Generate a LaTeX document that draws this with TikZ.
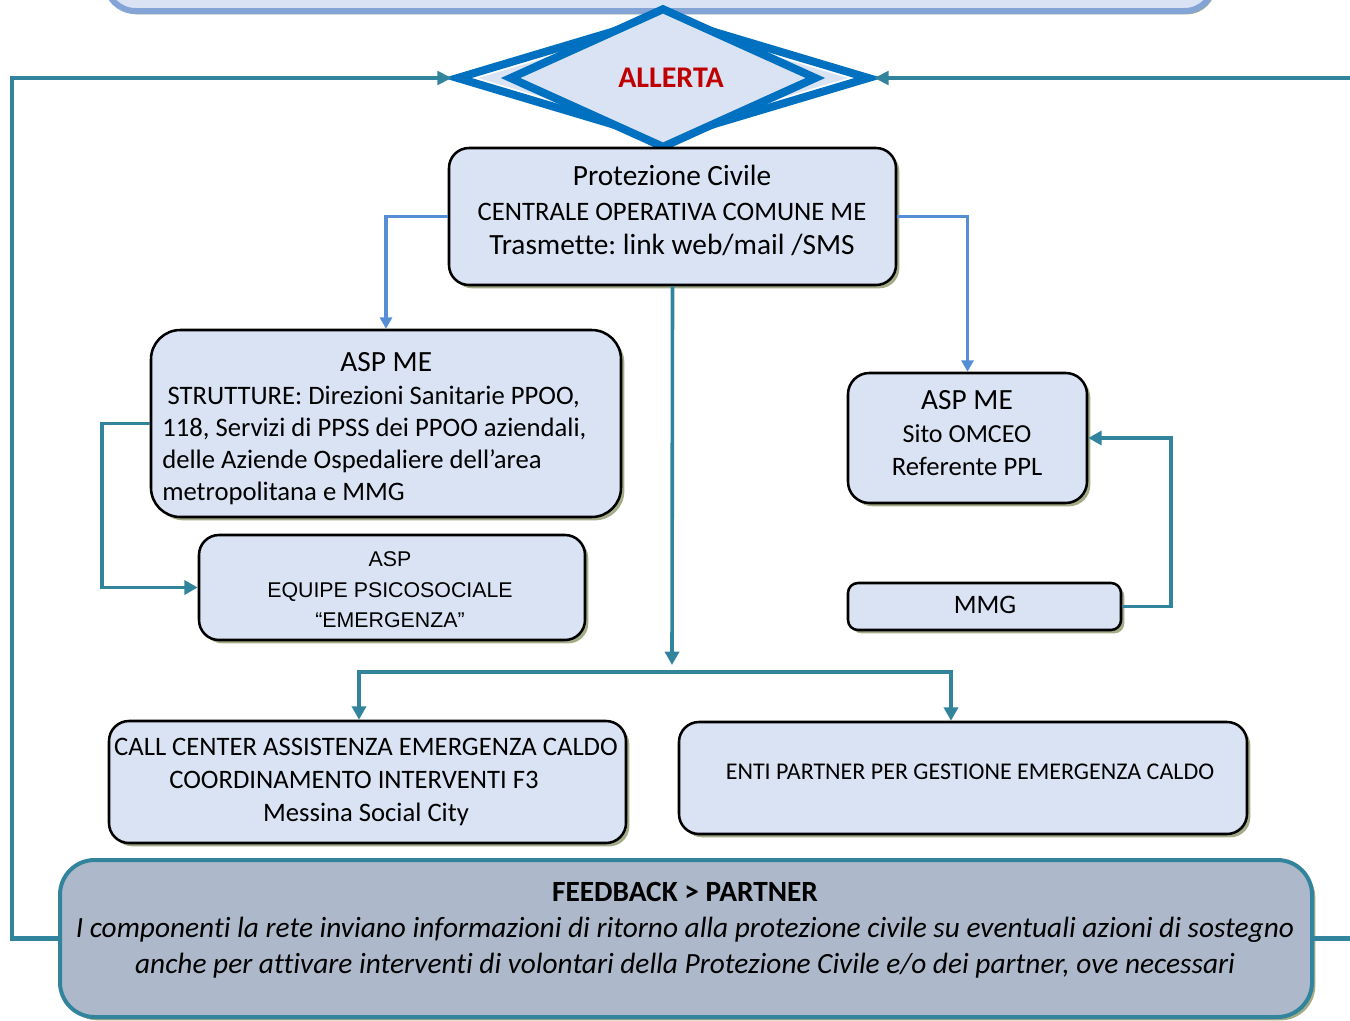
\documentclass[tikz,border=0pt]{standalone}
\usepackage{fontspec}
\setmainfont{Carlito}[Ligatures=NoCommon]
\newfontfamily\arialf{Liberation Sans}
\usetikzlibrary{arrows.meta,shadows,shapes.geometric}
\definecolor{boxfill}{HTML}{DAE3F3}
\definecolor{fbfill}{HTML}{ADB9CA}
\definecolor{teal1}{HTML}{31849B}
\definecolor{blue1}{HTML}{558ED5}
\definecolor{dblue}{HTML}{0070C0}
\definecolor{red1}{HTML}{C00000}
\definecolor{shad}{HTML}{A3AB87}
\definecolor{topborder}{HTML}{84A4D6}
\newcommand{\PXu}{0.75pt}
\tikzset{
  sbox/.style={draw=black, line width=1.9pt, fill=boxfill, rounded corners=#1, inner sep=0pt,
    general shadow={fill=shad, shadow xshift=2.5pt, shadow yshift=-2.5pt}},
  txt/.style={inner sep=0pt, align=center},
  bluecon/.style={draw=blue1, line width=2.6pt, -{Triangle[length=8.5pt,width=9pt]}},
  tealcon/.style={draw=teal1, line width=2.7pt, -{Triangle[length=10pt,width=10.5pt]}},
  fbcon/.style={draw=teal1, line width=3.4pt, -{Triangle[length=11pt,width=10pt]}},
}
\begin{document}
\frenchspacing
\begin{tikzpicture}[x=0.75pt,y=-0.75pt]
\useasboundingbox (0,0) rectangle (1350,1021);
\clip (0,0) rectangle (1350,1021);

% top box (cut off)
\node[draw=topborder, line width=4.5pt, fill=boxfill, rounded corners=22pt, inner sep=0pt,
  general shadow={fill=shad, shadow xshift=1.5pt, shadow yshift=-2.5pt},
  minimum width={1108*\PXu}, minimum height={80*\PXu}] (topbox) at (660,-29) {};

% diamond
\node[diamond, draw=dblue, line width=6pt, fill=white, inner sep=0pt,
  minimum width={414*\PXu}, minimum height={126*\PXu}] (allerta) at (663,78) {};
\node[diamond, fill=boxfill, inner sep=0pt,
  minimum width={370*\PXu}, minimum height={110*\PXu}] (allertaBand) at (663,78) {};
\node[diamond, draw=dblue, line width=6pt, fill=boxfill, inner sep=0pt,
  minimum width={308*\PXu}, minimum height={90*\PXu},
  font=\bfseries\fontsize{22.5pt}{24pt}\selectfont, text=red1] (allertaIn) at (663,78) {\hspace*{12pt}\raisebox{-3pt}{ALLERTA}};

% boxes
\node[sbox=15pt, minimum width={447*\PXu}, minimum height={137*\PXu}] (prot) at (672.5,216.5) {};
\node[txt, font=\fontsize{22pt}{25.9pt}\selectfont] (protT) at (672,210.5)
  {Protezione Civile\\{\fontsize{20pt}{25.9pt}\selectfont CENTRALE OPERATIVA COMUNE ME}\\Trasmette: link web/mail /SMS};

\node[sbox=22pt, minimum width={470*\PXu}, minimum height={187*\PXu}] (aspL) at (386,423.5) {};
\node[txt, align=left, anchor=west, font=\fontsize{20pt}{24.2pt}\selectfont] (aspLT) at (162,429)
  {\makebox[336pt]{\fontsize{22pt}{24.2pt}\selectfont ASP ME}\\\hspace*{4pt}STRUTTURE: Direzioni Sanitarie PPOO,\\118, Servizi di PPSS dei PPOO aziendali,\\delle Aziende Ospedaliere dell’area\\metropolitana e MMG};

\node[sbox=15pt, minimum width={386*\PXu}, minimum height={105*\PXu}] (equipe) at (392,587.5) {};
\node[txt, font=\arialf\fontsize{16pt}{22.9pt}\selectfont] (equipeT) at (390,590)
  {ASP\\EQUIPE PSICOSOCIALE\\“EMERGENZA”};

\node[sbox=16pt, minimum width={239*\PXu}, minimum height={130*\PXu}] (aspR) at (967.5,438) {};
\node[txt, font=\fontsize{22pt}{24.75pt}\selectfont] (aspRT) at (967,433)
  {ASP ME\\{\fontsize{19.5pt}{24.75pt}\selectfont Sito OMCEO}\\{\fontsize{20pt}{24.75pt}\selectfont Referente PPL}};

\node[sbox=7.5pt, minimum width={273*\PXu}, minimum height={47*\PXu}] (mmg) at (984.5,606.5) {};
\node[txt, font=\fontsize{20pt}{24pt}\selectfont] (mmgT) at (985,605) {MMG};

\node[sbox=15pt, minimum width={517*\PXu}, minimum height={122*\PXu}] (call) at (367.5,782) {};
\node[txt, font=\fontsize{20pt}{24.4pt}\selectfont] (callT) at (366,782)
  {CALL CENTER ASSISTENZA EMERGENZA CALDO\\COORDINAMENTO INTERVENTI F3\rule{18pt}{0pt}\\Messina Social City};

\node[sbox=15pt, minimum width={568*\PXu}, minimum height={112*\PXu}] (enti) at (963,778) {};
\node[txt, font=\fontsize{18pt}{22pt}\selectfont] (entiT) at (970,772)
  {ENTI PARTNER PER GESTIONE EMERGENZA CALDO};

% feedback box
\node[draw=teal1, line width=3pt, fill=fbfill, rounded corners=26pt, inner sep=0pt,
  general shadow={fill=shad, shadow xshift=2.5pt, shadow yshift=-2.5pt},
  minimum width={1252*\PXu}, minimum height={157*\PXu}] (fb) at (686,938.5) {};
\node[txt, font=\fontsize{22pt}{27pt}\selectfont] (fbT) at (685,930)
  {{\bfseries FEEDBACK > PARTNER}\\{\itshape I componenti la rete inviano informazioni di ritorno alla protezione civile su eventuali azioni di sostegno}\\{\itshape anche per attivare interventi di volontari della Protezione Civile e/o dei partner, ove necessari}};

% connectors
\coordinate (jtip) at (672,665);
\coordinate (jbar) at (672,672);
\draw[bluecon] (prot.west) -| (aspL.north);
\draw[bluecon] (prot.east) -| (aspR.north);
\draw[tealcon] (prot.south) -- (jtip);
\draw[tealcon] (jbar) -| (359,0 |- call.north);
\draw[tealcon] (jbar) -| (951,0 |- enti.north);
\draw[tealcon] (aspL.west) -- ++(-48,0) |- (equipe.west);
\draw[tealcon] (mmg.east) -- ++(49,0) |- (aspR.east);
\draw[fbcon] (fb.west) -- (12,0 |- fb.west) |- (allerta.west);
\draw[fbcon] (fb.east) -- (1400,0 |- fb.east) |- (allerta.east);
\end{tikzpicture}
\end{document}
